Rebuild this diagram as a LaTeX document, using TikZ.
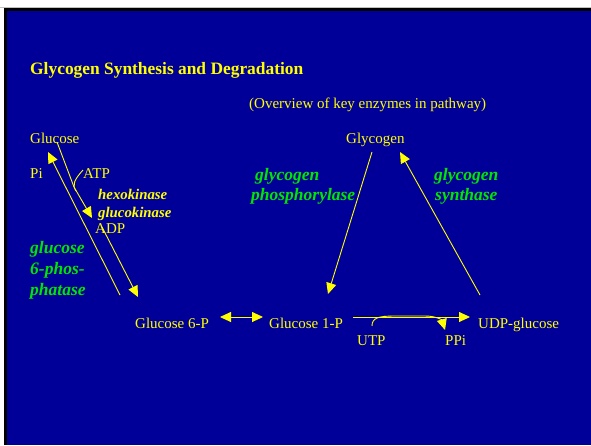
\documentclass[tikz,border=0pt]{standalone}
\usepackage{fontspec}
\setmainfont{Liberation Serif}
\usetikzlibrary{arrows.meta}

\definecolor{slideblue}{RGB}{0,0,153}
\definecolor{slideyellow}{RGB}{255,255,0}
\definecolor{enzgreen}{RGB}{0,230,0}

\begin{document}
\begin{tikzpicture}[x=1pt,y=-1pt,
        lbl/.style={anchor=base west,inner sep=0pt,text=slideyellow,font=\fontsize{15}{18}\selectfont},
        ttl/.style={lbl,font=\fontsize{17.4}{20}\selectfont\bfseries},
        kin/.style={lbl,font=\fontsize{14.8}{18}\selectfont\bfseries\itshape},
        enz/.style={anchor=base west,inner sep=0pt,text=enzgreen,font=\fontsize{17.5}{21}\selectfont\bfseries\itshape},
        rxn/.style={slideyellow,line width=0.9pt,-{Triangle[length=11pt,width=10pt]}}]
        % slide background
        \useasboundingbox (0,0) rectangle (591,445);
        \fill[white] (0,0) rectangle (591,445);
        \fill[gray!50] (0,6.5) rectangle (591,8);
        \fill[black] (4,8) rectangle (591,445);
        \fill[slideblue] (7,11) rectangle (591,445);

        % headings
        \node[ttl] (title) at (30,74) {Glycogen Synthesis and Degradation};
        \node[lbl] (overview) at (249,108) {(Overview of key enzymes in pathway)};

        % metabolites
        \node[lbl] (glc) at (30,143) {Glucose};
        \node[lbl] (glycogen) at (346,143) {Glycogen};
        \node[lbl] (g6p) at (135,328) {Glucose 6-P};
        \node[lbl] (g1p) at (269,328) {Glucose 1-P};
        \node[lbl] (udpg) at (478,328) {UDP-glucose};

        % cofactors
        \node[lbl] (pi) at (30,178) {Pi};
        \node[lbl] (atp) at (83,178) {ATP};
        \node[lbl] (adp) at (95,233) {ADP};
        \node[lbl] (utp) at (357,345) {UTP};
        \node[lbl] (ppi) at (445,345) {PPi};

        % enzymes
        \node[kin] (hexo) at (98,199) {hexokinase};
        \node[kin] (gluco) at (98,217) {glucokinase};
        \node[enz] (gsix1) at (30,253) {glucose};
        \node[enz] (gsix2) at (30,274) {6-phos-};
        \node[enz] (gsix3) at (30,295) {phatase};
        \node[enz] (phos1) at (255,180) {glycogen};
        \node[enz] (phos2) at (251,200) {phosphorylase};
        \node[enz] (synth1) at (434,180) {glycogen};
        \node[enz] (synth2) at (435,200) {synthase};

        % arrow ends
        \coordinate (glcout) at (57,142);
        \coordinate (kinbend) at (74,187);
        \coordinate (kintip) at (92,218);
        \coordinate (atpout) at (83,170);
        \coordinate (adpout) at (102,227);
        \coordinate (g6pin) at (138,297);
        \coordinate (g6pout) at (120,295);
        \coordinate (glcin) at (48,152);
        \coordinate (glyout) at (372,152);
        \coordinate (g1pin) at (328,294);
        \coordinate (udpout) at (480,295);
        \coordinate (glyin) at (400,152);
        \coordinate (g6pr) at (220,317);
        \coordinate (g1pl) at (263,317);
        \coordinate (g1pr) at (353,317);
        \coordinate (udpl) at (470,317);
        \coordinate (utpout) at (372,326);
        \coordinate (ppiin) at (445,330);

        % hexokinase / glucokinase
        \draw[rxn] (glcout) -- (kinbend) -- (kintip);
        \draw[slideyellow,line width=0.9pt] (atpout) .. controls (74,180) and (72,185) .. (76,191);
        \draw[rxn] (adpout) -- (g6pin);

        % glucose 6-phosphatase
        \draw[rxn] (g6pout) -- (glcin);

        % glycogen phosphorylase and synthase
        \draw[rxn] (glyout) -- (g1pin);
        \draw[rxn] (udpout) -- (glyin);

        % phosphoglucomutase and UDP-glucose pyrophosphorylase
        \draw[rxn,{Triangle[length=11pt,width=10pt]}-{Triangle[length=11pt,width=10pt]}] (g6pr) -- (g1pl);
        \draw[rxn] (g1pr) -- (udpl);
        \draw[rxn] (utpout) .. controls (372,318) and (378,316) .. (395,316)
                   -- (425,316) .. controls (436,316) and (442,320) .. (ppiin);
    \end{tikzpicture}
\end{document}
